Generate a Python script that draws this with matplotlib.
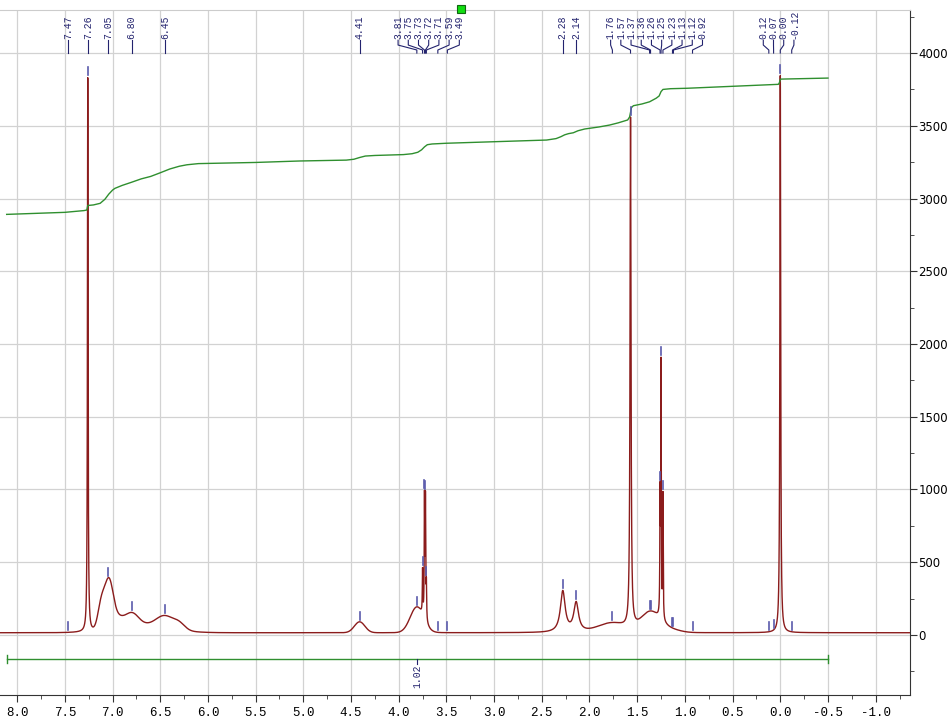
"""1H NMR spectrum with integral curve and peak picking (recreated)."""

import matplotlib.pyplot as plt
import numpy as np
from matplotlib.patches import Rectangle
from matplotlib.ticker import MultipleLocator

plt.rcParams["axes.unicode_minus"] = False

# picked peaks: labels shown at the top of the spectrum
PICK_PPM = [7.47, 7.26, 7.05, 6.80, 6.45, 4.41, 3.81, 3.75, 3.73, 3.72, 3.71,
            3.59, 3.49, 2.28, 2.14, 1.76, 1.57, 1.37, 1.36, 1.26, 1.25, 1.23,
            1.13, 1.12, 0.92, 0.12, 0.07, 0.00, -0.12]

# sharp lines (Lorentzian): centre ppm, height, half width
SHARP_PPM = [7.26, 3.75, 3.73, 3.72, 3.71, 2.28, 2.14, 1.57, 1.26, 1.25, 1.23, 0.00]
SHARP_HEIGHT = [3810, 300, 810, 810, 230, 282, 200, 3500, 790, 1720, 850, 3830]
SHARP_WIDTH = [0.004, 0.003, 0.003, 0.003, 0.003, 0.03, 0.03, 0.006, 0.003, 0.003, 0.003, 0.005]

# broad humps (Gaussian): centre ppm, height, sigma
BROAD_PPM = [7.12, 7.04, 6.95, 6.80, 6.70, 6.45, 6.30, 4.41, 3.81, 1.76, 1.36, 1.15]
BROAD_HEIGHT = [160, 320, 60, 85, 55, 80, 40, 75, 175, 65, 140, 20]
BROAD_WIDTH = [0.035, 0.045, 0.06, 0.07, 0.28, 0.09, 0.06, 0.055, 0.07, 0.15, 0.10, 0.10]
BASELINE = 15

# integral curve
INT_PPM = [8.11, 7.50, 7.30, 7.27, 7.26, 7.20, 7.13, 7.08, 7.04, 7.00, 6.975, 6.90,
           6.80, 6.70, 6.60, 6.50, 6.40, 6.30, 6.22, 6.10, 5.50, 5.04, 4.55, 4.47,
           4.41, 4.35, 4.25, 3.95, 3.86, 3.80, 3.76, 3.73, 3.70, 3.65, 3.50, 2.45,
           2.35, 2.30, 2.26, 2.22, 2.17, 2.12, 2.05, 1.90, 1.79, 1.70, 1.60, 1.58,
           1.56, 1.54, 1.45, 1.37, 1.30, 1.27, 1.25, 1.23, 1.15, 0.976, 0.02, 0.01,
           0.00, -0.01, -0.50]
INT_VALUE = [2891, 2905, 2917, 2921, 2952, 2956, 2967, 2995, 3030, 3058, 3070, 3090,
             3112, 3135, 3152, 3177, 3203, 3222, 3232, 3240, 3248, 3258, 3264, 3270,
             3282, 3292, 3296, 3302, 3308, 3318, 3335, 3355, 3370, 3375, 3380, 3402,
             3412, 3425, 3438, 3446, 3452, 3466, 3478, 3492, 3505, 3520, 3540, 3560,
             3625, 3638, 3650, 3665, 3690, 3705, 3735, 3750, 3755, 3758, 3785, 3795,
             3818, 3821, 3828]

# integration region and its value
REGION = (8.11, -0.50)
REGION_LABEL = "1.02"
REGION_LABEL_PPM = 3.81

XLIM = (8.18, -1.36)
YLIM = (-413, 4296)

RED = "#8b1c1c"
GREEN = "#2f8f2f"
NAVY = "#23236e"
PICK = "#5a5aac"


def spectrum(ppm):
    y = np.full_like(ppm, BASELINE, dtype=float)
    for c, h, w in zip(SHARP_PPM, SHARP_HEIGHT, SHARP_WIDTH):
        y += h / (1 + ((ppm - c) / w) ** 2)
    for c, h, s in zip(BROAD_PPM, BROAD_HEIGHT, BROAD_WIDTH):
        y += h * np.exp(-0.5 * ((ppm - c) / s) ** 2)
    return y


def spread_labels(ppms, spacing):
    """Centre overlapping labels on their group mean, like NMR software does."""
    groups = [[p] for p in sorted(ppms, reverse=True)]

    def positions(g):
        m = np.mean(g)
        n = len(g)
        return [m + spacing * ((n - 1) / 2 - i) for i in range(n)]

    merged = True
    while merged:
        merged = False
        for k in range(len(groups) - 1):
            if positions(groups[k])[-1] - positions(groups[k + 1])[0] < spacing:
                groups[k] = groups[k] + groups.pop(k + 1)
                merged = True
                break
    out = []
    for g in groups:
        out += list(zip(g, positions(g)))
    return out


fig = plt.figure(figsize=(9.52, 7.2), dpi=100)
ax = fig.add_axes([0, 25 / 720, 910 / 952, 685 / 720])

ppm = np.linspace(8.25, -1.45, 40000)
ax.plot(ppm, spectrum(ppm), color=RED, lw=1.0, zorder=3)
ax.plot(INT_PPM, INT_VALUE, color=GREEN, lw=1.0, zorder=3)

# peak-pick marks above each picked peak
for p in PICK_PPM:
    h = spectrum(np.array([p]))[0]
    ax.plot([p, p], [h + 15, h + 70], color=PICK, lw=1.2, zorder=4)

# peak labels with connectors at the top
for p, lx in spread_labels(PICK_PPM, 0.107):
    ax.plot([lx, lx, p, p], [4088, 4055, 4021, 4000], color=NAVY, lw=0.8, zorder=4)
    ax.text(lx, 4095, f"{p:.2f}", rotation=90, ha="center", va="bottom",
            fontsize=7, color=NAVY, family="Liberation Mono")

# integration bar
ax.plot(REGION, [-167, -167], color=GREEN, lw=1.0)
for x in REGION:
    ax.plot([x, x], [-140, -194], color=GREEN, lw=1.0)
ax.plot([REGION_LABEL_PPM] * 2, [-167, -200], color=NAVY, lw=0.8)
ax.text(REGION_LABEL_PPM, -205, REGION_LABEL, rotation=90, ha="center", va="top",
        fontsize=7, color=NAVY, family="Liberation Mono")

ax.set_xlim(XLIM)
ax.set_ylim(YLIM)
ax.xaxis.set_major_locator(MultipleLocator(0.5))
ax.xaxis.set_minor_locator(MultipleLocator(0.25))
ax.yaxis.set_major_locator(MultipleLocator(500))
ax.yaxis.set_minor_locator(MultipleLocator(250))
ax.yaxis.tick_right()
ax.set_yticks(np.arange(0, 4001, 500))
ax.xaxis.set_major_formatter(plt.FuncFormatter(lambda v, _: f"{v:.1f}"))
ax.grid(True, which="major", color="#d2d2d2", lw=0.9, zorder=0)
ax.tick_params(axis="x", which="major", length=5, direction="out", labelsize=9,
               pad=4, color="#333333")
ax.tick_params(axis="x", which="minor", length=3, color="#333333")
ax.tick_params(axis="y", which="major", length=5, labelsize=8.5, pad=1, color="#333333")
ax.tick_params(axis="y", which="minor", length=3, color="#333333")
for lbl in ax.get_xticklabels():
    lbl.set_family("Liberation Mono")

ax.spines["left"].set_visible(False)
ax.spines["top"].set_color("#cccccc")
ax.spines["right"].set_color("#333333")
ax.spines["bottom"].set_color("#333333")

# small green handle above the frame
fig.add_artist(Rectangle((457 / 952, (720 - 13) / 720), 8 / 952, 8 / 720,
                         transform=fig.transFigure, facecolor="#11dd11",
                         edgecolor="#116611", lw=0.8))

fig.savefig("out.png", dpi=100)
